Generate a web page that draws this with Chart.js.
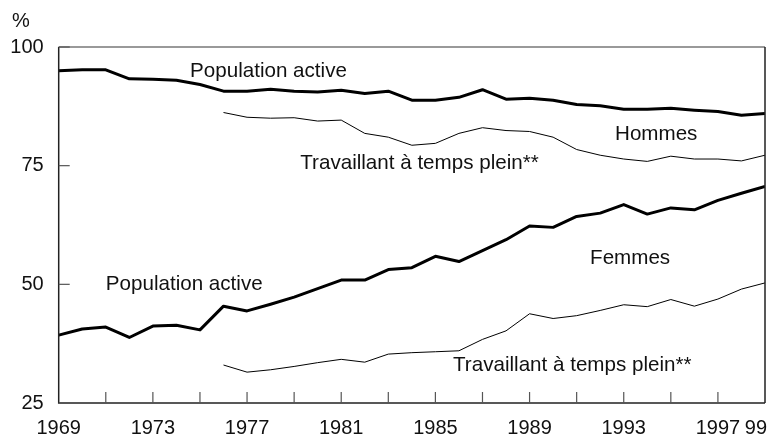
<!DOCTYPE html>
<html>
<head>
<meta charset="utf-8">
<script src="https://cdn.jsdelivr.net/npm/chart.js@4/dist/chart.umd.min.js"></script>
<style>
  html, body { margin: 0; padding: 0; background: #fff; }
  #wrap { width: 779px; height: 438px; }
</style>
</head>
<body>
<div id="wrap"><canvas id="chart" width="779" height="438"></canvas></div>
<script>
// years 1969..1999
const years = [1969,1970,1971,1972,1973,1974,1975,1976,1977,1978,1979,1980,1981,1982,1983,1984,
  1985,1986,1987,1988,1989,1990,1991,1992,1993,1994,1995,1996,1997,1998,1999];

const hommesActive = [95.0,95.2,95.2,93.3,93.2,93.0,92.1,90.7,90.7,91.1,90.7,90.5,90.9,90.2,90.7,88.8,
  88.8,89.4,91.0,89.0,89.2,88.8,87.9,87.6,86.9,86.9,87.1,86.7,86.4,85.6,86.0];
const hommesPlein = [null,null,null,null,null,null,null,86.2,85.2,85.0,85.1,84.4,84.6,81.8,81.0,79.3,
  79.7,81.8,83.0,82.4,82.2,81.0,78.4,77.2,76.4,75.9,77.0,76.4,76.4,76.0,77.2];
const femmesActive = [39.3,40.6,41.0,38.8,41.2,41.4,40.4,45.4,44.4,45.8,47.3,49.1,50.9,50.9,53.1,53.5,
  55.9,54.8,57.1,59.4,62.3,62.0,64.3,65.0,66.8,64.8,66.1,65.7,67.7,69.2,70.6];
const femmesPlein = [null,null,null,null,null,null,null,33.0,31.5,32.0,32.7,33.5,34.2,33.6,35.3,35.6,
  35.8,36.0,38.4,40.2,43.8,42.8,43.4,44.5,45.7,45.3,46.8,45.4,46.9,49.0,50.3];

const yTicks = [25, 50, 75, 100];
const xLabelYears = [1969,1973,1977,1981,1985,1989,1993,1997,1999];
const xLabels = ['1969','1973','1977','1981','1985','1989','1993','1997','99'];
const xTickYears = [1971,1973,1975,1977,1979,1981,1983,1985,1987,1989,1991,1993,1995,1997];

// annotation texts: [text, year (left edge), value (middle)]
const notes = [
  ['Population active', 1974.58, 94.9],
  ['Hommes', 1992.63, 81.6],
  ['Travaillant à temps plein**', 1979.26, 75.5],
  ['Population active', 1971.0, 50.0],
  ['Femmes', 1991.57, 55.5],
  ['Travaillant à temps plein**', 1985.75, 32.9]
];

const TICK_FONT = '20px "Liberation Sans", Arial, sans-serif';
const NOTE_FONT = '20.6px "Liberation Sans", Arial, sans-serif';

const axesPlugin = {
  id: 'axesPlugin',
  afterDatasetsDraw(c) {
    const { ctx, chartArea: a, scales: { x, y } } = c;
    ctx.save();
    // frame
    ctx.lineWidth = 1.5;
    ctx.strokeStyle = '#777';
    ctx.beginPath();
    ctx.moveTo(a.left, a.top); ctx.lineTo(a.right, a.top);
    ctx.stroke();
    ctx.strokeStyle = '#222';
    ctx.beginPath();
    ctx.moveTo(a.right, a.top); ctx.lineTo(a.right, a.bottom);
    ctx.moveTo(a.left, a.top); ctx.lineTo(a.left, a.bottom); ctx.lineTo(a.right, a.bottom);
    ctx.stroke();
    // y ticks (inward)
    ctx.lineWidth = 1.2;
    ctx.strokeStyle = '#555';
    yTicks.forEach(v => {
      const py = y.getPixelForValue(v);
      ctx.beginPath(); ctx.moveTo(a.left, py); ctx.lineTo(a.left + 11, py); ctx.stroke();
    });
    // x ticks (inward)
    xTickYears.forEach(yr => {
      const p = x.getPixelForValue(yr);
      ctx.beginPath(); ctx.moveTo(p, a.bottom); ctx.lineTo(p, a.bottom - 11); ctx.stroke();
    });
    // labels
    ctx.fillStyle = '#111';
    ctx.font = TICK_FONT;
    ctx.textBaseline = 'middle';
    ctx.textAlign = 'right';
    yTicks.forEach(v => ctx.fillText(String(v), a.left - 15, y.getPixelForValue(v)));
    ctx.textAlign = 'left';
    ctx.fillText('%', 12, 21);
    xLabels.forEach((t, i) => {
      const p = x.getPixelForValue(xLabelYears[i]);
      if (i === xLabels.length - 1) { ctx.textAlign = 'right'; ctx.fillText(t, p + 2, 428); }
      else { ctx.textAlign = 'center'; ctx.fillText(t, p, 428); }
    });
    // annotations
    ctx.font = NOTE_FONT;
    ctx.textAlign = 'left';
    notes.forEach(([t, yr, v]) => {
      ctx.fillText(t, x.getPixelForValue(yr), y.getPixelForValue(v));
    });
    ctx.restore();
  }
};

const ds = (vals, w) => ({
  data: years.map((yr, i) => ({ x: yr, y: vals[i] })),
  borderColor: '#000', borderWidth: w, pointRadius: 0, tension: 0,
  spanGaps: false, fill: false, borderJoinStyle: 'round'
});

new Chart(document.getElementById('chart'), {
  type: 'line',
  data: {
    datasets: [ds(hommesActive, 3), ds(hommesPlein, 1), ds(femmesActive, 3), ds(femmesPlein, 1)]
  },
  options: {
    responsive: false,
    animation: false,
    layout: { padding: { left: 58.7, right: 14, top: 47, bottom: 35 } },
    plugins: { legend: { display: false }, tooltip: { enabled: false } },
    scales: {
      x: { type: 'linear', display: false, min: 1969, max: 1999 },
      y: { display: false, min: 25, max: 100 }
    }
  },
  plugins: [axesPlugin]
});
</script>
</body>
</html>
